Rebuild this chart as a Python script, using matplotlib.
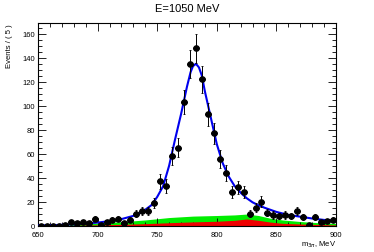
import numpy as np
import matplotlib
matplotlib.use("Agg")
import matplotlib.pyplot as plt
from matplotlib.ticker import MultipleLocator

plt.rcParams['font.family'] = ['Liberation Sans', 'DejaVu Sans']

# Histogram data (5 MeV bins, centres)
bin_centers = [652.5, 657.5, 662.5, 667.5, 672.5, 677.5, 682.5, 687.5, 692.5, 697.5,
               702.5, 707.5, 712.5, 717.5, 722.5, 727.5, 732.5, 737.5, 742.5, 747.5,
               752.5, 757.5, 762.5, 767.5, 772.5, 777.5, 782.5, 787.5, 792.5, 797.5,
               802.5, 807.5, 812.5, 817.5, 822.5, 827.5, 832.5, 837.5, 842.5, 847.5,
               852.5, 857.5, 862.5, 867.5, 872.5, 877.5, 882.5, 887.5, 892.5, 897.5]
counts = [0, 0, 0, 0, 1, 3, 2, 3, 2, 6,
          1, 3, 5, 6, 2, 5, 10, 12, 12, 19,
          37, 33, 58, 65, 103, 135, 148, 122, 93, 77,
          56, 44, 28, 32, 28, 10, 15, 20, 11, 9,
          8, 9, 8, 12, 7, 1, 7, 3, 4, 5]

# Fit curve (total)
fit_x = [650, 660, 670, 680, 690, 700, 710, 720, 730, 737.5, 745, 750, 755, 760, 765,
         770, 775, 778, 780, 782.5, 785, 787.5, 790, 792.5, 795, 800, 805, 810, 815, 820,
         825, 830, 835, 840, 850, 860, 870, 880, 890, 900]
fit_y = [0.2, 0.4, 0.7, 1.2, 1.8, 2.6, 3.8, 5.5, 8.2, 11.5, 17, 24, 33, 50, 72,
         93, 116, 128, 133, 135, 132, 125, 112, 101, 90, 68, 52, 41, 33, 27.5,
         23, 19.5, 17, 15, 11.5, 9, 7.5, 6, 4.8, 4]

# Background components
bg_x = [650, 670, 680, 700, 720, 740, 760, 780, 800, 815, 825, 835, 845, 855, 870, 885, 900]
bg_green = [0, 0.3, 1.0, 2.2, 3.3, 4.8, 6.8, 8.0, 8.5, 9.0, 9.7, 8.5, 6.2, 4.8, 3.5, 2.5, 1.8]
bg_red = [0, 0.1, 0.3, 0.7, 1.1, 1.7, 2.5, 3.2, 3.7, 4.5, 5.6, 4.5, 3.0, 2.0, 1.4, 1.0, 0.6]

title = "E=1050 MeV"
xlabel = "m$_{3\\pi}$, MeV"
ylabel = "Events / ( 5 )"

fig = plt.figure(figsize=(3.74, 2.53), dpi=100)
ax = fig.add_axes([38/374, 26.3/253, 298/374, 202.7/253])

ax.fill_between(bg_x, 0, bg_green, color='#00ee00', lw=0, zorder=1)
ax.fill_between(bg_x, 0, bg_red, color='#ee0000', lw=0, zorder=2)
ax.plot(fit_x, fit_y, color='#0000ee', lw=1.5, zorder=3)

c = np.array(counts, dtype=float)
ax.errorbar(bin_centers, c, xerr=2.5, yerr=np.sqrt(c), fmt='o', color='black',
            ms=3.8, elinewidth=0.7, capsize=1.0, capthick=0.6, zorder=4)

ax.set_xlim(650, 900)
ax.set_ylim(0, 169)
ax.xaxis.set_major_locator(MultipleLocator(50))
ax.xaxis.set_minor_locator(MultipleLocator(10))
ax.yaxis.set_major_locator(MultipleLocator(20))
ax.yaxis.set_minor_locator(MultipleLocator(5))
ax.tick_params(which='both', direction='in', top=True, right=True, labelsize=5.5,
               width=0.6)
ax.tick_params(axis='y', pad=2)
ax.tick_params(axis='x', pad=3.5)
ax.tick_params(which='major', length=6)
ax.tick_params(which='minor', length=3)
for s in ax.spines.values():
    s.set_linewidth(0.8)

fig.text(187/374, 1 - 9/253, title, ha='center', va='center', fontsize=8)
fig.text(336/374, 1 - 245/253, xlabel, ha='right', va='center', fontsize=5.5)
fig.text(10/374, 1 - 24/253, ylabel, ha='center', va='top', rotation=90, fontsize=5.5)

fig.savefig("out.png", dpi=100)
